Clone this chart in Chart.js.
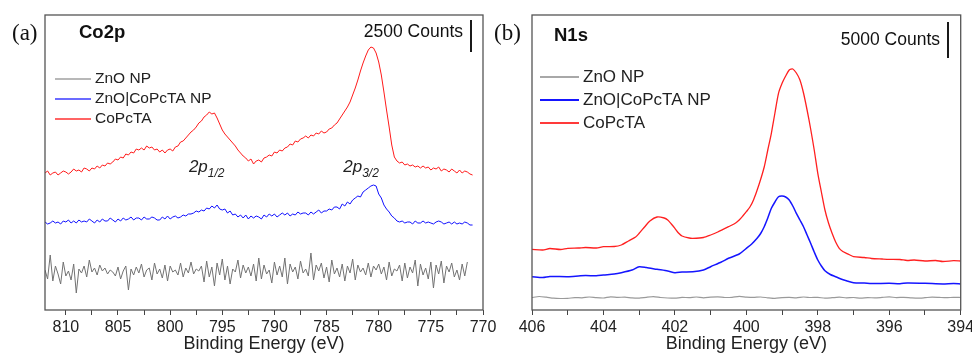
<!DOCTYPE html>
<html>
<head>
<meta charset="utf-8">
<script src="https://cdn.jsdelivr.net/npm/chart.js@4.4.1/dist/chart.umd.min.js"></script>
<style>
  html, body { margin: 0; padding: 0; background: #fff; }
  #wrap { position: relative; width: 972px; height: 355px; overflow: hidden; }
  canvas { position: absolute; top: 0; }
  #co { left: 0; }
  #n { left: 482px; }
</style>
</head>
<body>
<div id="wrap">
  <canvas id="co" width="500" height="355"></canvas>
  <canvas id="n" width="490" height="355"></canvas>
</div>
<script>
const seriesNames = ["ZnO NP", "ZnO|CoPcTA NP", "CoPcTA"];

// ---- Co2p panel (a): one value every 0.25 eV from 812 eV down ----
const coStart = 812;
const coStep = 0.25;

const coRed = [
  137, 139, 135, 137,  138, 135, 137, 139,  138, 136, 138, 141,  139, 140, 138, 142,
  141, 139, 142, 141,  144, 142, 145, 144,  147, 146, 148, 151,  150, 153, 152, 156,
  155, 158, 157, 161,  160, 162, 160, 164,  162, 163, 160, 161,  158, 160, 157, 160,
  161, 159, 163, 164,  168, 169, 172, 175,  178, 180, 183, 187,  189, 193, 195, 198,
  196, 197, 192, 186,  180, 176, 173, 170,  167, 164, 160, 157,  154, 152, 149, 151,
  146, 149, 150, 148,  152, 153, 155, 154,  158, 157, 160, 159,  162, 163, 166, 165,
  169, 168, 171, 172,  174, 172, 175, 174,  177, 176, 179, 177,  178, 181, 182, 185,
  187, 191, 195, 199,  203, 208, 215, 222,  230, 239, 247, 254,  260, 263, 262, 257,
  248, 235, 218, 200,  183, 165, 153, 149,  147, 148, 145, 146,  144, 145, 143, 144,
  142, 144, 142, 143,  140, 142, 141, 143,  139, 141, 140, 138,  141, 139, 137, 140,
  137, 139, 138, 136,  135
];

const coBlue = [
  88, 86, 87, 89,  87, 88, 86, 89,  88, 90, 87, 89,  87, 90, 88, 89,
  88, 91, 89, 87,  90, 88, 91, 89,  89, 92, 90, 88,  91, 89, 92, 90,
  91, 93, 90, 92,  92, 90, 93, 91,  91, 93, 92, 90,  90, 93, 91, 94,
  91, 93, 94, 92,  93, 95, 94, 96,  96, 97, 99, 98,  100, 99, 102, 101,
  104, 102, 105, 101,  100, 101, 97, 99,  95, 96, 93, 95,  92, 95, 91, 94,
  92, 94, 93, 91,  95, 93, 96, 94,  96, 93, 95, 97,  95, 97, 94, 96,
  95, 98, 96, 97,  97, 95, 98, 96,  98, 100, 97, 99,  99, 101, 100, 103,
  103, 101, 106, 104,  108, 106, 110, 112,  114, 113, 118, 120,  122, 124, 125, 124,
  116, 112, 105, 101,  98, 94, 92, 89,  88, 89, 87, 88,  88, 86, 89, 87,
  87, 89, 87, 88,  87, 86, 88, 89,  88, 86, 87, 88,  86, 88, 86, 87,
  86, 88, 87, 85,  85
];

const coGray = [
  40, 31, 55, 29, 44, 36, 26, 48, 34, 39, 30, 46, 17, 41, 37, 44, 33, 50, 38, 42,
  35, 45, 39, 42, 36, 40, 38, 34, 43, 31, 39, 44, 20, 41, 35, 43, 37, 46, 33, 40,
  42, 30, 47, 36, 41, 32, 45, 29, 44, 38, 40, 35, 47, 33, 42, 37, 48, 36, 41, 39,
  44, 28, 49, 33, 43, 24, 47, 35, 51, 30, 44, 26, 41, 38, 50, 32, 45, 37, 43, 34,
  46, 29, 52, 31, 45, 36, 40, 27, 48, 35, 44, 33, 52, 26, 46, 38, 43, 31, 49, 37,
  41, 34, 57, 30, 45, 39, 47, 32, 43, 28, 50, 36, 42, 33, 46, 29, 44, 37, 51, 30,
  45, 38, 42, 35, 47, 33, 44, 40, 46, 36, 43, 30, 48, 34, 41, 39, 45, 29, 47, 32,
  43, 37, 50, 24, 46, 35, 42, 31, 48, 22, 45, 36, 49, 27, 44, 38, 47, 33, 40, 30,
  46, 34, 48
];

// ---- N1s panel (b) ----
const nRedE = [406, 405.7, 405.5, 405.2, 405, 404.7, 404.5, 404.2, 404, 403.7, 403.5, 403.3, 403.1, 403, 402.85, 402.7, 402.5, 402.3, 402.2, 402.1, 402, 401.9, 401.8, 401.6, 401.5, 401.2, 401, 400.8, 400.5, 400.3, 400.2, 400.1, 400, 399.9, 399.8, 399.65, 399.5, 399.4, 399.3, 399.2, 399.1, 399, 398.9, 398.8, 398.7, 398.6, 398.5, 398.4, 398.3, 398.2, 398.1, 398, 397.9, 397.8, 397.7, 397.6, 397.5, 397.4, 397.3, 397.2, 397.1, 397, 396.7, 396.5, 396.2, 396, 395.7, 395.5, 395.3, 395, 394.7, 394.5, 394.2, 394];
const nRed = [60.7, 60, 61.5, 60.5, 61.7, 62, 62.5, 62, 63.3, 63.5, 65, 69, 73, 76.7, 83, 89, 93, 92, 90, 86, 81.7, 77, 74, 72, 71.7, 72.5, 75, 78, 83.3, 87, 90, 94, 98.3, 103, 110, 125, 143, 160, 176.7, 197, 216.7, 226.7, 234, 240, 241, 237, 230, 217, 200, 181, 160, 136.7, 118, 100, 87, 76.7, 68, 61.7, 58.5, 56.7, 55, 53.3, 52.5, 51.5, 51, 50.7, 50.5, 49.5, 50, 49, 49.5, 48.5, 49.3, 49];

const nBlueE = [406, 405.7, 405.5, 405, 404.7, 404.5, 404.2, 404, 403.7, 403.5, 403.2, 403, 402.8, 402.5, 402.2, 402, 401.8, 401.5, 401.2, 401, 400.7, 400.5, 400.2, 400, 399.85, 399.7, 399.6, 399.5, 399.4, 399.3, 399.2, 399.1, 399, 398.9, 398.8, 398.7, 398.6, 398.5, 398.4, 398.3, 398.2, 398.1, 398, 397.9, 397.8, 397.65, 397.5, 397.35, 397.2, 397, 396.7, 396.5, 396, 395.7, 395.5, 395, 394.5, 394.2, 394];
const nBlue = [33.3, 32.5, 33.5, 33.3, 34, 34.5, 34.2, 35, 36, 37.3, 40, 43.3, 42.5, 40.7, 39, 37.3, 38, 38.3, 40, 43.3, 48, 51.7, 56, 61.7, 66, 71.7, 76.5, 83.3, 92, 101.7, 108, 113.3, 114, 113, 110, 104, 96.7, 90, 83.3, 75, 66.7, 58, 50, 44, 39.3, 35.5, 33.3, 31, 29.3, 27.3, 27, 26.5, 26.7, 26.3, 27, 26.7, 26, 26.5, 26];

// gray, one value every 0.2 eV from 406 eV down
const nGrayStart = 406;
const nGrayStep = 0.2;
const nGray = [12.5, 13.5, 12.8, 11.8, 11.5, 11.6, 12.4, 12.2, 13.0, 12.3, 12.0, 13.2, 12.6, 12.9, 12.1, 11.9, 12.7, 13.3, 12.5, 12.0, 11.8, 12.6, 12.4, 13.0, 12.2, 12.8, 13.1, 12.5, 12.7, 13.6, 12.9, 12.6, 13.0, 12.2, 11.6, 12.4, 12.7, 12.2, 13.0, 12.5, 12.6, 11.9, 12.3, 12.8, 12.2, 12.5, 11.9, 12.4, 12.1, 12.6, 13.1, 12.4, 12.7, 12.2, 11.8, 12.3, 12.9, 12.6, 12.3, 12.7, 12.5];

function zip(xs, ys) {
  return ys.map((y, i) => ({ x: xs[i], y: y }));
}
function stepped(start, step, ys) {
  return ys.map((y, i) => ({ x: start - i * step, y: y }));
}

const FONT = "'Liberation Sans', Arial, sans-serif";

const deco = {
  id: "deco",
  afterDraw(chart, args, o) {
    const ctx = chart.ctx;
    const a = chart.chartArea;
    ctx.save();
    // frame
    ctx.strokeStyle = "#555";
    ctx.lineWidth = 1.3;
    ctx.strokeRect(a.left, a.top, a.right - a.left, a.bottom - a.top);

    ctx.fillStyle = "#111";
    ctx.textBaseline = "alphabetic";
    ctx.textAlign = "left";
    ctx.font = "23px 'Liberation Serif', 'Times New Roman', serif";
    ctx.fillText(o.letter, o.letterX, 40);
    ctx.font = "bold 18.5px " + FONT;
    ctx.fillText(o.name, o.nameX, o.nameY);

    // scale bar
    ctx.textAlign = "right";
    ctx.textBaseline = "middle";
    ctx.font = "17.5px " + FONT;
    ctx.fillText(o.counts, o.countsX, o.countsY);
    ctx.strokeStyle = "#000";
    ctx.lineWidth = 1.8;
    ctx.beginPath();
    ctx.moveTo(o.barX, o.barTop);
    ctx.lineTo(o.barX, o.barBottom);
    ctx.stroke();

    // legend
    ctx.textAlign = "left";
    ctx.font = o.legendFont + "px " + FONT;
    chart.data.datasets.forEach((ds, i) => {
      const y = o.legendY[i];
      ctx.strokeStyle = ds.legendColor;
      ctx.lineWidth = o.legendLine;
      ctx.beginPath();
      ctx.moveTo(o.legendX1, y);
      ctx.lineTo(o.legendX2, y);
      ctx.stroke();
      ctx.fillStyle = "#222";
      ctx.fillText(ds.label, o.legendX2 + 4, y);
    });

    // peak labels
    if (o.peaks) {
      const xs = chart.scales.x;
      const ys = chart.scales.y;
      ctx.textBaseline = "alphabetic";
      o.peaks.forEach(p => {
        const px = xs.getPixelForValue(p.e);
        const py = ys.getPixelForValue(p.v);
        ctx.font = "italic 17px " + FONT;
        ctx.fillText("2p", px, py);
        const w = ctx.measureText("2p").width;
        ctx.font = "italic 12px " + FONT;
        ctx.fillText(p.sub, px + w, py + 5);
      });
    }
    ctx.restore();
  }
};

function makePanel(id, cfg) {
  return new Chart(document.getElementById(id), {
    type: "line",
    data: { datasets: cfg.datasets },
    options: {
      responsive: false,
      animation: false,
      devicePixelRatio: 1,
      layout: { padding: cfg.padding },
      elements: { point: { radius: 0 } },
      plugins: {
        legend: { display: false },
        tooltip: { enabled: false },
        deco: cfg.deco
      },
      scales: {
        x: {
          type: "linear",
          reverse: true,
          min: cfg.min,
          max: cfg.max,
          afterFit: s => { s.height = 45; s.paddingLeft = 0; s.paddingRight = 0; },
          border: { display: false },
          grid: { drawOnChartArea: false, tickLength: 5, tickColor: "#444", tickWidth: 1 },
          ticks: {
            stepSize: cfg.step,
            includeBounds: false,
            autoSkip: false,
            maxRotation: 0,
            padding: 3,
            color: "#222",
            font: { family: FONT, size: 16 },
            callback: v => (Math.abs(v % cfg.major) < 1e-6 ? String(v) : "")
          },
          title: {
            display: true,
            text: "Binding Energy (eV)",
            color: "#222",
            font: { family: FONT, size: 18 },
            padding: 0
          }
        },
        y: { display: false, min: 0, max: 295 }
      }
    },
    plugins: [deco]
  });
}

makePanel("co", {
  min: 770, max: 812, step: 2.5, major: 5,
  padding: { left: 45, right: 17, top: 15, bottom: 0 },
  datasets: [
    { label: seriesNames[0], data: stepped(coStart, coStep, coGray), borderColor: "#727272", legendColor: "#a0a0a0", borderWidth: 1, tension: 0 },
    { label: seriesNames[1], data: stepped(coStart, coStep, coBlue), borderColor: "#1010ff", legendColor: "#3a3aff", borderWidth: 1, tension: 0 },
    { label: seriesNames[2], data: stepped(coStart, coStep, coRed), borderColor: "#ff1a1a", legendColor: "#ff3030", borderWidth: 1, tension: 0 }
  ],
  deco: {
    letter: "(a)", letterX: 12, name: "Co2p", nameX: 79, nameY: 38,
    counts: "2500 Counts", countsX: 463, countsY: 32, barX: 471, barTop: 20, barBottom: 52,
    legendFont: 15.5, legendLine: 1.5, legendX1: 55, legendX2: 91, legendY: [79, 99, 119],
    peaks: [{ e: 798.2, v: 138, sub: "1/2" }, { e: 783.4, v: 138, sub: "3/2" }]
  }
});

makePanel("n", {
  min: 394, max: 406, step: 1, major: 2,
  padding: { left: 50, right: 11.3, top: 15, bottom: 0 },
  datasets: [
    { label: seriesNames[0], data: stepped(nGrayStart, nGrayStep, nGray), borderColor: "#9a9a9a", legendColor: "#a8a8a8", borderWidth: 1.2, tension: 0.2 },
    { label: seriesNames[1], data: zip(nBlueE, nBlue), borderColor: "#1515ff", legendColor: "#1515ff", borderWidth: 1.5, tension: 0.25 },
    { label: seriesNames[2], data: zip(nRedE, nRed), borderColor: "#ff2020", legendColor: "#ff3a3a", borderWidth: 1.3, tension: 0.25 }
  ],
  deco: {
    letter: "(b)", letterX: 12, name: "N1s", nameX: 72, nameY: 41,
    counts: "5000 Counts", countsX: 458, countsY: 40, barX: 466, barTop: 22, barBottom: 58,
    legendFont: 17, legendLine: 2, legendX1: 58, legendX2: 97, legendY: [77, 100, 123]
  }
});
</script>
</body>
</html>
